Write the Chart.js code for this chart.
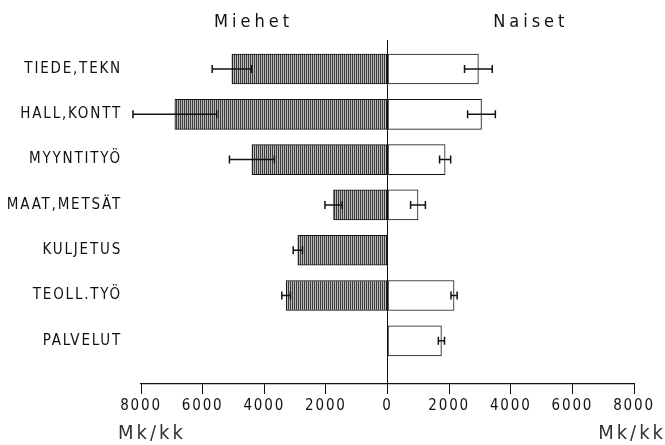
<!DOCTYPE html>
<html>
<head>
<meta charset="utf-8">
<script src="https://cdn.jsdelivr.net/npm/chart.js@4"></script>
<style>
    html, body { margin: 0; padding: 0; background: #fff; }
    #wrap { width: 665px; height: 445px; }
</style>
</head>
<body>
<div id="wrap"><canvas id="chart" width="665" height="445"></canvas></div>
<script>
const categories = ['TIEDE,TEKN', 'HALL,KONTT', 'MYYNTITYÖ', 'MAAT,METSÄT', 'KULJETUS', 'TEOLL.TYÖ', 'PALVELUT'];
const maleMean = [5050, 6900, 4400, 1750, 2910, 3290, null];
const maleErr = [640, 1360, 730, 280, 150, 140, null];
const femaleMean = [2950, 3050, 1870, 990, null, 2160, 1750];
const femaleErr = [450, 450, 180, 240, null, 100, 100];
const xTicks = [-8000, -6000, -4000, -2000, 0, 2000, 4000, 6000, 8000];
const groupTitles = ['Miehet', 'Naiset'];
const unitLabel = 'Mk/kk';

const FONT = "'DejaVu Sans Condensed', 'Liberation Sans Narrow', sans-serif";

function hatch() {
    const c = document.createElement('canvas');
    c.width = 2; c.height = 2;
    const g = c.getContext('2d');
    g.fillStyle = '#bdbdbd';
    g.fillRect(0, 0, 2, 2);
    g.fillStyle = '#3a3a3a';
    g.fillRect(0, 0, 1, 2);
    return g.createPattern(c, 'repeat');
}

const toPoints = (values, sign) => values
    .map((v, i) => (v == null ? null : { x: sign * v, y: i }))
    .filter(p => p);

const spacing = {
    id: 'spacing',
    beforeLayout(chart) { chart.ctx.letterSpacing = '1.8px'; },
    beforeDraw(chart) { chart.ctx.letterSpacing = '1.8px'; }
};

const errorBars = {
    id: 'errorBars',
    afterDatasetsDraw(chart) {
        const { ctx, scales: { x, y } } = chart;
        const sets = [[maleMean, maleErr, -1], [femaleMean, femaleErr, 1]];
        ctx.save();
        ctx.strokeStyle = '#111';
        ctx.lineWidth = 1.5;
        sets.forEach(([means, errs, sign]) => {
            means.forEach((m, i) => {
                if (m == null || !errs[i]) return;
                const py = y.getPixelForValue(i);
                const x1 = x.getPixelForValue(sign * (m - errs[i]));
                const x2 = x.getPixelForValue(sign * (m + errs[i]));
                ctx.beginPath();
                ctx.moveTo(x1, py); ctx.lineTo(x2, py);
                ctx.moveTo(x1, py - 4); ctx.lineTo(x1, py + 4);
                ctx.moveTo(x2, py - 4); ctx.lineTo(x2, py + 4);
                ctx.stroke();
            });
        });
        ctx.restore();
    }
};

const labels = {
    id: 'labels',
    afterDraw(chart) {
        const { ctx, chartArea, scales: { x } } = chart;
        ctx.save();
        ctx.fillStyle = '#111';
        ctx.textBaseline = 'middle';
        ctx.textAlign = 'center';
        ctx.letterSpacing = '4px';
        ctx.font = `18px ${FONT}`;
        ctx.fillText(groupTitles[0], x.getPixelForValue(-4350), 22);
        ctx.fillText(groupTitles[1], x.getPixelForValue(4650), 22);
        ctx.letterSpacing = '3px';
        ctx.font = `20px ${FONT}`;
        ctx.fillStyle = '#333';
        ctx.textAlign = 'left';
        ctx.fillText(unitLabel, chartArea.left - 23, 434);
        ctx.textAlign = 'right';
        ctx.fillText(unitLabel, 666, 434);
        ctx.restore();
    }
};

new Chart(document.getElementById('chart'), {
    type: 'bar',
    data: {
        datasets: [
            { label: groupTitles[0], data: toPoints(maleMean, -1), backgroundColor: hatch(), borderColor: '#111', borderWidth: 1, borderSkipped: false, barThickness: 30, grouped: false },
            { label: groupTitles[1], data: toPoints(femaleMean, 1), backgroundColor: '#fff', borderColor: '#111', borderWidth: 1, borderSkipped: false, barThickness: 30, grouped: false }
        ]
    },
    options: {
        indexAxis: 'y',
        responsive: false,
        animation: false,
        devicePixelRatio: 1,
        layout: { padding: { top: 40, right: 31, bottom: 0, left: 0 } },
        plugins: { legend: { display: false }, tooltip: { enabled: false } },
        scales: {
            x: {
                type: 'linear',
                min: -8000, max: 8000,
                afterBuildTicks: scale => { scale.ticks = xTicks.map(v => ({ value: v })); },
                afterFit: scale => { scale.height = 61; },
                ticks: { callback: v => String(Math.abs(v)), color: '#111', font: { family: FONT, size: 15 }, padding: 3, autoSkip: false, maxRotation: 0 },
                grid: {
                    color: ctx => (ctx.tick && ctx.tick.value === 0 ? '#111' : 'rgba(0,0,0,0)'),
                    tickColor: '#111', tickLength: 10, lineWidth: 1
                },
                border: { display: true, color: '#111', width: 1.2 }
            },
            y: {
                type: 'linear',
                reverse: true,
                offset: false,
                min: -0.64, max: 6.953,
                afterBuildTicks: scale => { scale.ticks = categories.map((_, i) => ({ value: i })); },
                afterFit: scale => { scale.width = 141; },
                ticks: { callback: v => categories[v] ?? '', color: '#111', font: { family: FONT, size: 15 }, padding: 11, autoSkip: false },
                grid: { display: false },
                border: { display: false }
            }
        }
    },
    plugins: [spacing, errorBars, labels]
});
</script>
</body>
</html>
